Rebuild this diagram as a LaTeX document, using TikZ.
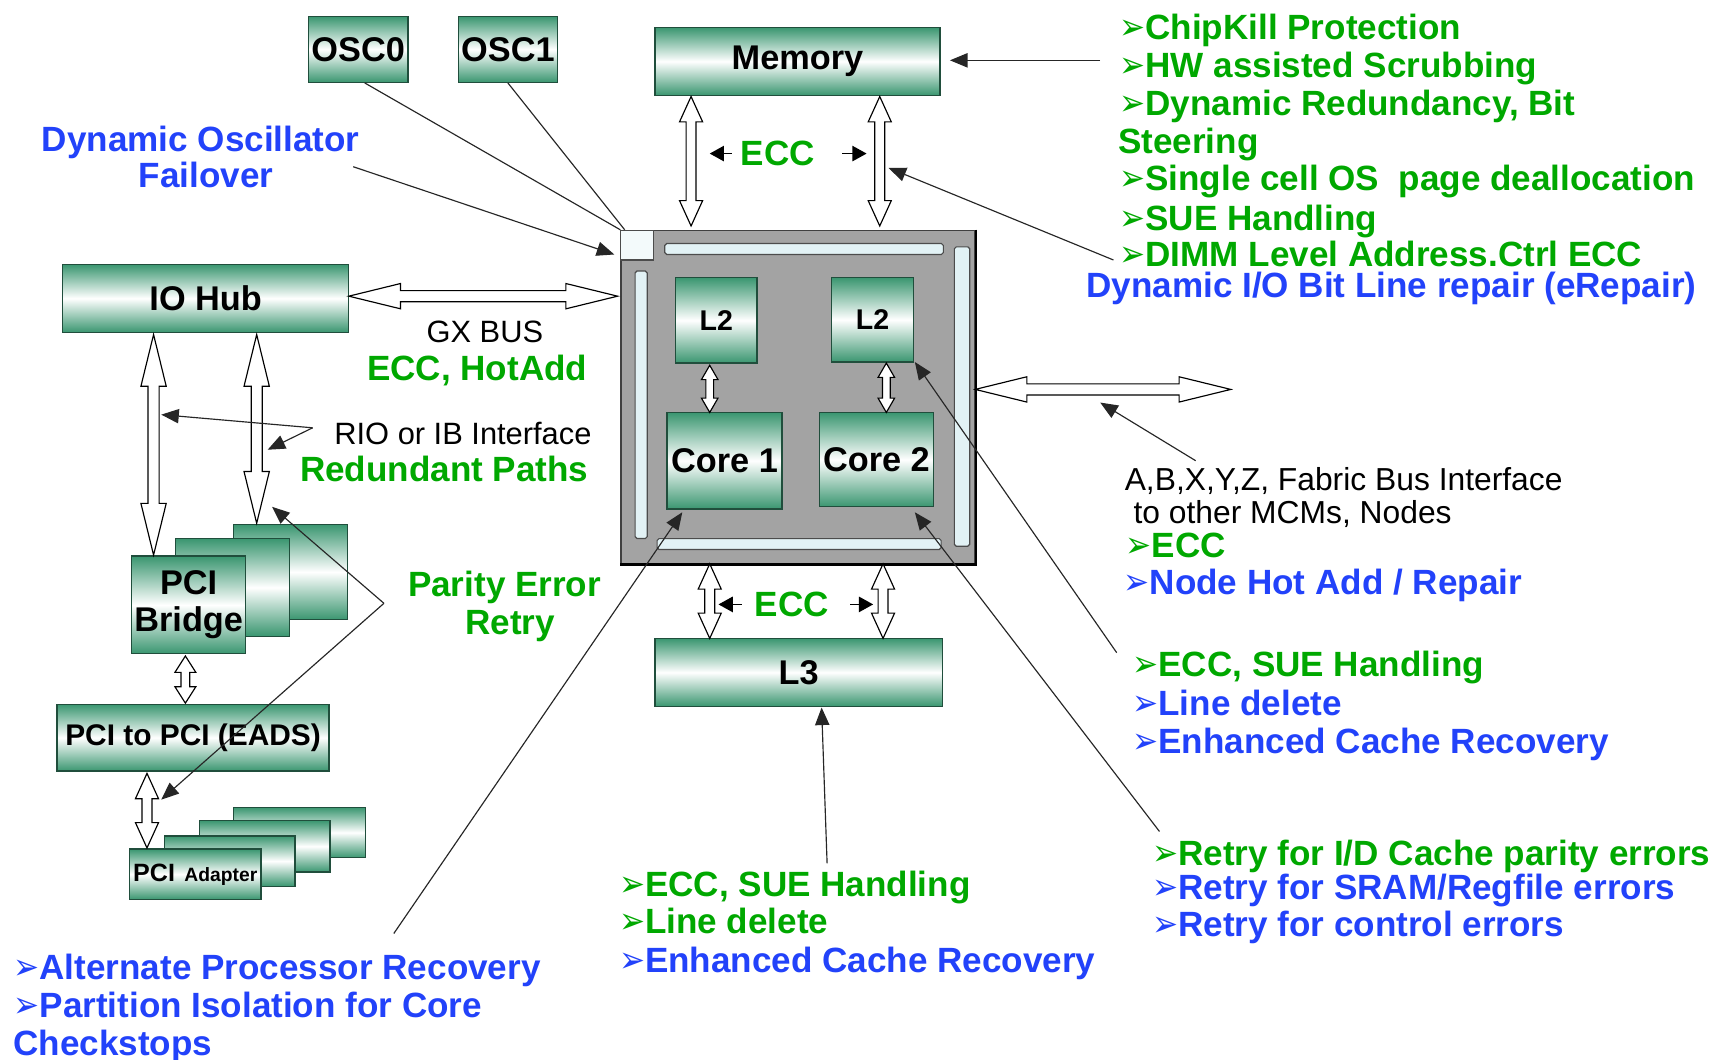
\documentclass[tikz,border=0pt]{standalone}
\usepackage{fontspec}
\setmainfont{Liberation Sans}
\newfontfamily\dejavu{DejaVu Sans}
\usetikzlibrary{shapes.arrows,arrows.meta,calc}

\definecolor{tgreen}{RGB}{0,168,0}
\definecolor{tblue}{RGB}{34,66,250}
\definecolor{boxg}{RGB}{58,150,112}
\definecolor{boxb}{RGB}{32,78,60}
\definecolor{chipgray}{RGB}{163,163,163}
\definecolor{barfill}{RGB}{226,242,245}

\newcommand\bul{\scalebox{0.85}[1.0]{\dejavu\fontsize{19}{19}\selectfont ➢}}
\newcommand\ctfont{\fontsize{18.2}{19.7}\selectfont\bfseries}
\newcommand\ktfont{\fontsize{16}{17}\selectfont}
\newcommand\fbfont{\fontsize{16.5}{17}\selectfont}
\newcommand\boxfont{\fontsize{17.8}{20}\selectfont\bfseries}
% hollow double arrow between two named coordinates: [style]{name}{from}{to}
\newcommand\harr[4]{\path let \p1=(#3), \p2=(#4), \n1={veclen(\x2-\x1,\y2-\y1)}, \n2={atan2(\y2-\y1,\x2-\x1)} in node[#1,minimum height=\n1,rotate=\n2] (#2) at ($(#3)!0.5!(#4)$) {};}

\begin{document}
\begin{tikzpicture}[x=0.02cm,y=-0.02cm,
  box/.style={draw=boxb,line width=0.7pt,top color=boxg,bottom color=boxg,middle color=white,inner sep=0pt,text=black,font=\boxfont},
  chip/.style={draw=black!75,fill=chipgray,line width=0.8pt,inner sep=0pt},
  bar/.style={draw=black!70,fill=barfill,line width=0.6pt,inner sep=0pt},
  ha/.style={shape=double arrow,draw=black,fill=white,line width=0.6pt,inner xsep=0pt,minimum width=1pt,outer sep=0pt},
  hlong/.style={ha,inner ysep=0.09cm,double arrow head extend=0.13cm,double arrow tip angle=27.5},
  hshort/.style={ha,inner ysep=0.08cm,double arrow head extend=0.12cm,double arrow tip angle=49},
  hmid/.style={ha,inner ysep=0.07cm,double arrow head extend=0.11cm,double arrow tip angle=65},
  hsmall/.style={ha,inner ysep=0.06cm,double arrow head extend=0.08cm,double arrow tip angle=60},
  thin/.style={draw=black!85,line width=0.6pt},
  arr/.style={thin,-{Triangle[length=0.32cm,width=0.26cm]}},
  sarr/.style={draw=black,line width=0.8pt,-{Triangle[length=0.26cm,width=0.28cm]}},
  ctx/.style={inner sep=0pt,anchor=base west,font=\ctfont},
  gt/.style={ctx,text=tgreen},
  bt/.style={ctx,text=tblue},
  kt/.style={inner sep=0pt,anchor=base west,font=\ktfont,text=black},
]
\fill[white] (0,0) rectangle (1568,966);
\useasboundingbox (0,0) rectangle (1568,966);

% chip
\node[chip,minimum width=6.46cm,minimum height=6.08cm] (chip) at (727.5,362) {};
\draw[line width=1.2pt] (chip.north east) -- (chip.south east) -- (chip.south west);
\node[bar,minimum width=0.6cm,minimum height=0.54cm,fill=white!60!barfill] (osq) at (581,223.5) {};
\node[bar,rounded corners=1pt,minimum width=5.08cm,minimum height=0.2cm] (tbar) at (733,227) {};
\node[bar,rounded corners=1pt,minimum width=0.22cm,minimum height=4.88cm] (lbar) at (584.5,369) {};
\node[bar,rounded corners=1pt,minimum width=0.28cm,minimum height=5.46cm] (rbar) at (877,361.5) {};
\node[bar,rounded corners=1pt,minimum width=5.18cm,minimum height=0.2cm] (bbar) at (728.5,496) {};

\node[box,font=\fontsize{14.8}{16}\selectfont\bfseries,minimum width=1.48cm,minimum height=1.56cm] (l2a) at (653,292) {L2};
\node[box,font=\fontsize{14.8}{16}\selectfont\bfseries,minimum width=1.5cm,minimum height=1.54cm] (l2b) at (795.5,291.5) {L2};
\node[box,minimum width=2.1cm,minimum height=1.76cm] (core1) at (660.5,420) {Core 1};
\node[box,minimum width=2.08cm,minimum height=1.72cm] (core2) at (799,419) {Core 2};

% boxes
\node[box,minimum width=1.82cm,minimum height=1.2cm] (osc0) at (326.5,45) {OSC0};
\node[box,minimum width=1.8cm,minimum height=1.2cm] (osc1) at (463,45) {OSC1};
\node[box,minimum width=5.2cm,minimum height=1.24cm] (mem) at (727,56) {Memory};
\node[box,minimum width=5.22cm,minimum height=1.24cm] (iohub) at (187.5,272) {IO Hub};
\node[box,minimum width=2.08cm,minimum height=1.74cm] (pb3) at (265,521.5) {};
\node[box,minimum width=2.08cm,minimum height=1.78cm] (pb2) at (212,535.5) {};
\node[box,minimum width=2.08cm,minimum height=1.78cm,align=center] (pb1) at (172,551.5) {PCI\\[-1pt]Bridge};
\node[box,font=\fontsize{15.5}{17}\selectfont\bfseries,minimum width=4.96cm,minimum height=1.22cm] (eads) at (176,672.5) {PCI to PCI (EADS)};
\node[box,minimum width=2.4cm,minimum height=0.92cm] (ad4) at (273,759) {};
\node[box,minimum width=2.38cm,minimum height=0.94cm] (ad3) at (241.5,771.5) {};
\node[box,minimum width=2.38cm,minimum height=0.92cm] (ad2) at (209.5,785) {};
\node[box,minimum width=2.4cm,minimum height=0.92cm] (ad1) at (178,797) {{\fontsize{13}{13}\selectfont PCI} {\fontsize{10}{10}\selectfont Adapter}};
\node[box,minimum width=5.24cm,minimum height=1.24cm] (l3) at (728,613) {L3};

% hollow arrows
\coordinate (mlA) at (630,88);  \coordinate (mlB) at (630,206);
\coordinate (mrA) at (802,88);  \coordinate (mrB) at (802,206);
\coordinate (gxA) at (318,270); \coordinate (gxB) at (563,270);
\coordinate (i1A) at (140,305); \coordinate (i1B) at (140,506);
\coordinate (i2A) at (234,305); \coordinate (i2B) at (234,477);
\coordinate (pbA) at (169,598); \coordinate (pbB) at (169,641);
\coordinate (paA) at (134,705); \coordinate (paB) at (134,773);
\coordinate (c1A) at (647,333); \coordinate (c1B) at (647,376);
\coordinate (c2A) at (808,331); \coordinate (c2B) at (808,376);
\coordinate (l3aA) at (647,514); \coordinate (l3aB) at (647,582);
\coordinate (l3bA) at (805,514); \coordinate (l3bB) at (805,582);
\coordinate (fbA) at (889,355); \coordinate (fbB) at (1122,355);
\harr{hshort}{hmemL}{mlA}{mlB}
\harr{hshort}{hmemR}{mrA}{mrB}
\harr{hlong}{hgx}{gxA}{gxB}
\harr{hlong}{hio1}{i1A}{i1B}
\harr{hlong}{hio2}{i2A}{i2B}
\harr{hmid}{hpb}{pbA}{pbB}
\harr{hshort}{hpa}{paA}{paB}
\harr{hsmall}{hc1}{c1A}{c1B}
\harr{hsmall}{hc2}{c2A}{c2B}
\harr{hshort}{hl3a}{l3aA}{l3aB}
\harr{hshort}{hl3b}{l3bA}{l3bB}
\harr{hlong}{hfab}{fbA}{fbB}

% texts
\node[gt] (m1) at (1020,36) {\bul ChipKill Protection};
\node[gt] (m2) at (1020,71) {\bul HW assisted Scrubbing};
\node[gt] (m3) at (1020,105) {\bul Dynamic Redundancy, Bit};
\node[gt] (m4) at (1019,140) {Steering};
\node[gt] (m5) at (1020,174) {\bul Single cell OS\ \ page deallocation};
\node[gt] (m6) at (1020,210) {\bul SUE Handling};
\node[gt] (m7) at (1020,243) {\bul DIMM Level Address.Ctrl ECC};
\node[bt] (m8) at (990,271) {Dynamic I/O Bit Line repair (eRepair)};

\node[bt,anchor=base] (do1) at (183,138) {Dynamic Oscillator};
\node[bt,anchor=base] (do2) at (188,171) {Failover};

\node[kt,anchor=base] (gx) at (442,312) {GX BUS};
\node[gt,anchor=base] (gxe) at (435,347) {ECC, HotAdd};
\node[kt,anchor=base] (rio) at (422,405) {RIO or IB Interface};
\node[gt,anchor=base] (red) at (405,439) {Redundant Paths};
\node[gt,anchor=base] (par1) at (460,544) {Parity Error};
\node[gt,anchor=base] (par2) at (465,578) {Retry};
\node[gt,anchor=base] (ecc1) at (709,151) {ECC};
\node[gt,anchor=base] (ecc2) at (722,562) {ECC};

\node[kt,font=\fbfont] (f1) at (1025,447) {A,B,X,Y,Z, Fabric Bus Interface};
\node[kt,font=\fbfont] (f2) at (1033,477) {to other MCMs, Nodes};
\node[gt] (f3) at (1026,508) {\bul ECC};
\node[bt] (f4) at (1024,542) {\bul Node Hot Add / Repair};

\node[gt] (r1) at (1032,617) {\bul ECC, SUE Handling};
\node[bt] (r2) at (1032,652) {\bul Line delete};
\node[bt] (r3) at (1032,687) {\bul Enhanced Cache Recovery};

\node[gt] (t1) at (1050,789) {\bul Retry for I/D Cache parity errors};
\node[bt] (t2) at (1050,820) {\bul Retry for SRAM/Regfile errors};
\node[bt] (t3) at (1050,854) {\bul Retry for control errors};

\node[gt] (b1) at (564,817) {\bul ECC, SUE Handling};
\node[gt] (b2) at (564,851) {\bul Line delete};
\node[bt] (b3) at (564,887) {\bul Enhanced Cache Recovery};

\node[bt] (a1) at (12,893) {\bul Alternate Processor Recovery};
\node[bt] (a2) at (12,928) {\bul Partition Isolation for Core};
\node[bt] (a3) at (12,962) {Checkstops};

% thin lines and arrows
\draw[thin] ($(osc0.south)+(6,0)$) -- (osq.north west);
\draw[thin] (osc1.south) -- ($(osq.north west)+(4,0)$);
\coordinate (foS) at (322,152); \coordinate (foT) at (560,232);
\draw[arr] (foS) -- (foT);
\coordinate (maS) at (1003,55); \coordinate (maT) at (866,55);
\draw[arr] (maS) -- (maT);
\coordinate (diS) at (1015,237); \coordinate (diT) at (810,153);
\draw[arr] (diS) -- (diT);
\coordinate (rioS) at (285,390); \coordinate (rioT1) at (147,378); \coordinate (rioT2) at (244,410);
\draw[arr] (rioS) -- (rioT1);
\draw[arr] (rioS) -- (rioT2);
\coordinate (paS) at (350,550); \coordinate (paT1) at (248,462); \coordinate (paT2) at (147,729);
\draw[arr] (paS) -- (paT1);
\draw[arr] (paS) -- (paT2);
\coordinate (apS) at (359,851); \coordinate (apT) at (622,467);
\draw[arr] (apS) -- (apT);
\coordinate (l2S) at (1018,595); \coordinate (l2T) at (834,330);
\draw[arr] (l2S) -- (l2T);
\coordinate (c2S) at (1057,758); \coordinate (c2T) at (834,467);
\draw[arr] (c2S) -- (c2T);
\coordinate (fbS) at (1090,420); \coordinate (fbT) at (1003,367);
\draw[arr] (fbS) -- (fbT);
\coordinate (l3S) at (754,787); \coordinate (l3T) at (749,645);
\draw[arr] (l3S) -- (l3T);

% small ECC arrows
\coordinate (e1a) at (667,140); \coordinate (e1b) at (647,140);
\coordinate (e2a) at (768,140); \coordinate (e2b) at (790,140);
\coordinate (e3a) at (676,551); \coordinate (e3b) at (655,551);
\coordinate (e4a) at (775,551); \coordinate (e4b) at (796,551);
\draw[sarr] (e1a) -- (e1b);
\draw[sarr] (e2a) -- (e2b);
\draw[sarr] (e3a) -- (e3b);
\draw[sarr] (e4a) -- (e4b);
\end{tikzpicture}
\end{document}
